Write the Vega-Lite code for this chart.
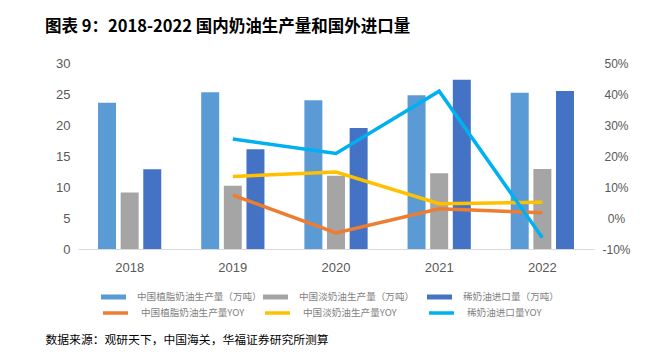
{
  "$schema": "https://vega.github.io/schema/vega-lite/v6.json",
  "autosize": {"type": "none"},
  "width": 516,
  "height": 186,
  "padding": {"left": 78, "top": 63, "right": 51, "bottom": 107},
  "background": "white",
  "config": {
    "view": {"stroke": null},
    "font": "Noto Sans CJK SC",
    "legend": {
      "orient": "none",
      "symbolSize": 625,
      "labelOffset": 11,
      "labelFontSize": 9.6,
      "labelColor": "#7F7F7F",
      "labelFont": "Noto Sans CJK SC",
      "labelLimit": 200,
      "padding": 0
    }
  },
  "title": {
    "text": "图表 9：2018-2022 国内奶油生产量和国外进口量",
    "anchor": "start",
    "frame": "group",
    "dx": -33,
    "offset": 22,
    "fontSize": 16.5,
    "fontWeight": "bold",
    "color": "#000000",
    "font": "Noto Sans CJK SC"
  },
  "datasets": {
    "bars": [
      {"year": "2018", "series": "中国植脂奶油生产量（万吨）", "value": 23.6},
      {"year": "2018", "series": "中国淡奶油生产量（万吨）", "value": 9.1},
      {"year": "2018", "series": "稀奶油进口量（万吨）", "value": 12.85},
      {"year": "2019", "series": "中国植脂奶油生产量（万吨）", "value": 25.3},
      {"year": "2019", "series": "中国淡奶油生产量（万吨）", "value": 10.2},
      {"year": "2019", "series": "稀奶油进口量（万吨）", "value": 16.1},
      {"year": "2020", "series": "中国植脂奶油生产量（万吨）", "value": 24.0},
      {"year": "2020", "series": "中国淡奶油生产量（万吨）", "value": 11.8},
      {"year": "2020", "series": "稀奶油进口量（万吨）", "value": 19.5},
      {"year": "2021", "series": "中国植脂奶油生产量（万吨）", "value": 24.8},
      {"year": "2021", "series": "中国淡奶油生产量（万吨）", "value": 12.2},
      {"year": "2021", "series": "稀奶油进口量（万吨）", "value": 27.3},
      {"year": "2022", "series": "中国植脂奶油生产量（万吨）", "value": 25.2},
      {"year": "2022", "series": "中国淡奶油生产量（万吨）", "value": 12.9},
      {"year": "2022", "series": "稀奶油进口量（万吨）", "value": 25.5}
    ],
    "lines": [
      {"year": "2019", "series": "中国植脂奶油生产量YOY", "value": 0.074},
      {"year": "2020", "series": "中国植脂奶油生产量YOY", "value": -0.048},
      {"year": "2021", "series": "中国植脂奶油生产量YOY", "value": 0.030},
      {"year": "2022", "series": "中国植脂奶油生产量YOY", "value": 0.017},
      {"year": "2019", "series": "中国淡奶油生产量YOY", "value": 0.134},
      {"year": "2020", "series": "中国淡奶油生产量YOY", "value": 0.148},
      {"year": "2021", "series": "中国淡奶油生产量YOY", "value": 0.046},
      {"year": "2022", "series": "中国淡奶油生产量YOY", "value": 0.051},
      {"year": "2019", "series": "稀奶油进口量YOY", "value": 0.255},
      {"year": "2020", "series": "稀奶油进口量YOY", "value": 0.208},
      {"year": "2021", "series": "稀奶油进口量YOY", "value": 0.409},
      {"year": "2022", "series": "稀奶油进口量YOY", "value": -0.064}
    ]
  },
  "encoding": {
    "x": {
      "field": "year",
      "type": "nominal",
      "scale": {"paddingInner": 0.387, "paddingOuter": 0.194},
      "axis": {
        "title": "数据来源：观研天下，中国海关，华福证券研究所测算",
        "titleX": -33,
        "titleY": 90,
        "titleAlign": "left",
        "titleBaseline": "middle",
        "titleFontSize": 11.8,
        "titleFontWeight": "normal",
        "titleColor": "#000000",
        "titleFont": "Noto Sans CJK SC",
        "labelAngle": 0,
        "labelFont": "Liberation Sans",
        "labelFontSize": 13,
        "labelColor": "#595959",
        "labelPadding": 12,
        "ticks": false,
        "domainColor": "#D9D9D9",
        "domainWidth": 1
      }
    }
  },
  "layer": [
    {
      "data": {"name": "bars"},
      "encoding": {
        "xOffset": {
          "field": "series",
          "type": "nominal",
          "scale": {
            "domain": ["中国植脂奶油生产量（万吨）", "中国淡奶油生产量（万吨）", "稀奶油进口量（万吨）"],
            "paddingInner": 0.205
          }
        },
        "y": {
          "field": "value",
          "type": "quantitative",
          "scale": {"domain": [0, 30], "nice": false},
          "axis": {
            "title": null,
            "values": [0, 5, 10, 15, 20, 25, 30],
            "grid": false,
            "domain": false,
            "ticks": false,
            "labelPadding": 8,
            "labelFont": "Liberation Sans",
            "labelFontSize": 13,
            "labelColor": "#595959"
          }
        }
      },
      "layer": [
        {
          "transform": [{"filter": "datum.series === '中国植脂奶油生产量（万吨）'"}],
          "mark": {"type": "bar"},
          "encoding": {
            "fill": {
              "field": "series", "type": "nominal",
              "scale": {"domain": ["中国植脂奶油生产量（万吨）"], "range": ["#5B9BD5"]},
              "legend": {"title": null, "legendX": 23, "legendY": 221.5, "symbolType": "M-1,-0.2L1,-0.2L1,0.2L-1,0.2Z", "symbolStrokeWidth": 0}
            }
          }
        },
        {
          "transform": [{"filter": "datum.series === '中国淡奶油生产量（万吨）'"}],
          "mark": {"type": "bar"},
          "encoding": {
            "fill": {
              "field": "series", "type": "nominal",
              "scale": {"domain": ["中国淡奶油生产量（万吨）"], "range": ["#A5A5A5"]},
              "legend": {"title": null, "legendX": 185, "legendY": 221.5, "symbolType": "M-1,-0.2L1,-0.2L1,0.2L-1,0.2Z", "symbolStrokeWidth": 0}
            }
          }
        },
        {
          "transform": [{"filter": "datum.series === '稀奶油进口量（万吨）'"}],
          "mark": {"type": "bar"},
          "encoding": {
            "fill": {
              "field": "series", "type": "nominal",
              "scale": {"domain": ["稀奶油进口量（万吨）"], "range": ["#4472C4"]},
              "legend": {"title": null, "legendX": 349, "legendY": 221.5, "symbolType": "M-1,-0.2L1,-0.2L1,0.2L-1,0.2Z", "symbolStrokeWidth": 0}
            }
          }
        }
      ],
      "resolve": {"scale": {"fill": "independent"}, "legend": {"fill": "independent"}}
    },
    {
      "data": {"name": "lines"},
      "encoding": {
        "y": {
          "field": "value",
          "type": "quantitative",
          "scale": {"domain": [-0.1, 0.5], "nice": false},
          "axis": {
            "orient": "right",
            "title": null,
            "values": [-0.1, 0, 0.1, 0.2, 0.3, 0.4, 0.5],
            "labelExpr": "round(datum.value * 100) + '%'",
            "grid": false,
            "domain": false,
            "ticks": false,
            "labelAlign": "center",
            "labelPadding": 22,
            "labelFont": "Liberation Sans",
            "labelFontSize": 12,
            "labelColor": "#595959"
          }
        }
      },
      "layer": [
        {
          "transform": [{"filter": "datum.series === '中国植脂奶油生产量YOY'"}],
          "mark": {"type": "line", "strokeWidth": 3.5},
          "encoding": {
            "stroke": {
              "field": "series", "type": "nominal",
              "scale": {"domain": ["中国植脂奶油生产量YOY"], "range": ["#ED7D31"]},
              "legend": {"title": null, "legendX": 23, "legendY": 235.5, "symbolType": "stroke", "symbolStrokeWidth": 3.5}
            }
          }
        },
        {
          "transform": [{"filter": "datum.series === '中国淡奶油生产量YOY'"}],
          "mark": {"type": "line", "strokeWidth": 3.5},
          "encoding": {
            "stroke": {
              "field": "series", "type": "nominal",
              "scale": {"domain": ["中国淡奶油生产量YOY"], "range": ["#FFC000"]},
              "legend": {"title": null, "legendX": 185, "legendY": 235.5, "symbolType": "stroke", "symbolStrokeWidth": 3.5}
            }
          }
        },
        {
          "transform": [{"filter": "datum.series === '稀奶油进口量YOY'"}],
          "mark": {"type": "line", "strokeWidth": 3.5},
          "encoding": {
            "stroke": {
              "field": "series", "type": "nominal",
              "scale": {"domain": ["稀奶油进口量YOY"], "range": ["#00B0F0"]},
              "legend": {"title": null, "legendX": 349, "legendY": 235.5, "symbolType": "stroke", "symbolStrokeWidth": 3.5}
            }
          }
        }
      ],
      "resolve": {"scale": {"stroke": "independent"}, "legend": {"stroke": "independent"}}
    }
  ],
  "resolve": {
    "scale": {"y": "independent", "fill": "independent", "stroke": "independent"},
    "legend": {"fill": "independent", "stroke": "independent"}
  }
}
